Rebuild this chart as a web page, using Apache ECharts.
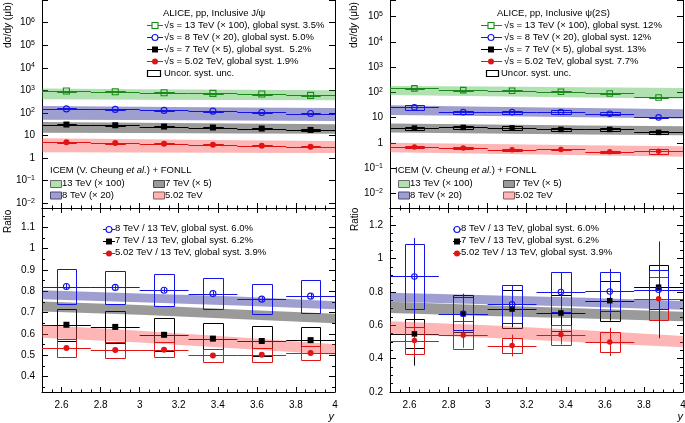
<!DOCTYPE html>
<html><head><meta charset="utf-8">
<script src="https://cdn.jsdelivr.net/npm/echarts@6/dist/echarts.min.js"></script>
<style>html,body{margin:0;padding:0;background:#fff}#c{width:685px;height:423px}</style>
</head><body><div id="c"></div>
<script>
// ---------------- DATA ----------------
const binCenters = [2.625, 2.875, 3.125, 3.375, 3.625, 3.875];
const binHalfWidth = 0.125;
const bandX = [2.5, 3.0, 3.5, 4.0];

// J/psi dsigma/dy (ub), scaled
const jpsi13 = [930, 866, 782, 735, 684, 598];
const jpsi8 = [151, 143, 129, 120, 105, 94];
const jpsi7 = [30.6, 28.5, 24.9, 22.5, 20.3, 17.6];
const jpsi5 = [4.98, 4.63, 4.36, 3.93, 3.55, 3.2];
const jpsiSys13 = [0.05, 0.05, 0.05, 0.05, 0.05, 0.05];
const jpsiSys8 = [0.05, 0.05, 0.05, 0.05, 0.05, 0.05];
const jpsiSys7 = [0.07, 0.07, 0.07, 0.07, 0.07, 0.07];
const jpsiSys5 = [0.05, 0.05, 0.05, 0.05, 0.05, 0.05];
// ICEM + FONLL bands for J/psi
const jpsiBand13Hi = [1200, 1120, 1060, 1000];
const jpsiBand13Lo = [400, 385, 372, 360];
const jpsiBand8Hi = [200, 188, 176, 165];
const jpsiBand8Lo = [50, 48, 46, 44];
const jpsiBand7Hi = [39.5, 36.5, 33.8, 31.2];
const jpsiBand7Lo = [13.2, 12.8, 12.4, 12];
const jpsiBand5Hi = [7.5, 6.8, 6.2, 5.7];
const jpsiBand5Lo = [1.8, 1.76, 1.73, 1.7];

// J/psi ratios to 13 TeV
const jpsiR8 = [0.822, 0.818, 0.805, 0.789, 0.763, 0.777];
const jpsiR7 = [0.643, 0.633, 0.596, 0.578, 0.567, 0.571];
const jpsiR5 = [0.534, 0.525, 0.526, 0.499, 0.502, 0.511];
const jpsiR8Stat = [0.012, 0.01, 0.01, 0.01, 0.01, 0.012];
const jpsiR7Stat = [0.01, 0.01, 0.01, 0.01, 0.01, 0.01];
const jpsiR5Stat = [0.01, 0.01, 0.01, 0.01, 0.01, 0.01];
const jpsiR8Sys = [0.081, 0.079, 0.075, 0.073, 0.071, 0.078];
const jpsiR7Sys = [0.076, 0.076, 0.078, 0.075, 0.07, 0.061];
const jpsiR5Sys = [0.042, 0.036, 0.034, 0.031, 0.032, 0.034];
const jpsiRBand8Hi = [0.805, 0.79, 0.775, 0.753];
const jpsiRBand8Lo = [0.762, 0.748, 0.733, 0.716];
const jpsiRBand7Hi = [0.752, 0.735, 0.715, 0.695];
const jpsiRBand7Lo = [0.705, 0.69, 0.67, 0.65];
const jpsiRBand5Hi = [0.642, 0.615, 0.585, 0.552];
const jpsiRBand5Lo = [0.582, 0.56, 0.532, 0.502];

// psi(2S) dsigma/dy (ub), scaled
const psi13 = [144, 123, 116, 106, 91, 63];
const psi8 = [25.4, 16.5, 16.5, 16.8, 14.3, 10.2];
const psi7 = [3.85, 4.08, 3.9, 3.4, 3.4, 2.6];
const psi5 = [0.69, 0.63, 0.53, 0.55, 0.44, 0.46];
const psiSys13 = [0.06, 0.05, 0.05, 0.05, 0.05, 0.06];
const psiSys8 = [0.2, 0.15, 0.15, 0.15, 0.15, 0.08];
const psiSys7 = [0.15, 0.15, 0.15, 0.15, 0.15, 0.15];
const psiSys5 = [0.08, 0.08, 0.08, 0.08, 0.08, 0.2];
const psiBand13Hi = [180, 170, 160, 150];
const psiBand13Lo = [78, 70, 63, 57];
const psiBand8Hi = [31, 27, 24, 21.5];
const psiBand8Lo = [12.6, 11.5, 10.3, 9.2];
const psiBand7Hi = [5.8, 5.3, 4.9, 4.6];
const psiBand7Lo = [2.55, 2.35, 2.15, 2.0];
const psiBand5Hi = [1.0, 0.9, 0.81, 0.74];
const psiBand5Lo = [0.42, 0.37, 0.32, 0.28];

// psi(2S) ratios to 13 TeV
const psiR8 = [0.892, 0.669, 0.725, 0.799, 0.802, 0.812];
const psiR7 = [0.548, 0.669, 0.697, 0.673, 0.747, 0.828];
const psiR5 = [0.508, 0.54, 0.478, 0.544, 0.50, 0.759];
const psiR8Stat = [0.23, 0.12, 0.11, 0.12, 0.135, 0.29];
const psiR7Stat = [0.19, 0.11, 0.11, 0.11, 0.12, 0.14];
const psiR5Stat = [0.1, 0.075, 0.065, 0.06, 0.085, 0.13];
const psiR8Sys = [0.194, 0.1, 0.114, 0.117, 0.115, 0.116];
const psiR7Sys = [0.087, 0.11, 0.114, 0.11, 0.12, 0.13];
const psiR5Sys = [0.083, 0.085, 0.047, 0.06, 0.06, 0.129];
const psiRBand8Hi = [0.795, 0.78, 0.765, 0.745];
const psiRBand8Lo = [0.74, 0.725, 0.71, 0.693];
const psiRBand7Hi = [0.74, 0.72, 0.70, 0.68];
const psiRBand7Lo = [0.673, 0.655, 0.64, 0.623];
const psiRBand5Hi = [0.623, 0.6, 0.57, 0.535];
const psiRBand5Lo = [0.548, 0.525, 0.497, 0.468];

// ---------------- STYLE ----------------
const FF = '"Liberation Sans", Arial, sans-serif';
const GREEN = '#1a8a1a', BLUE = '#1414e6', BLACK = '#000000', RED = '#e01414';
const BAND_GREEN = 'rgba(60,180,60,0.4)', BAND_BLUE = 'rgba(40,40,150,0.45)',
      BAND_GRAY = 'rgba(40,40,40,0.47)', BAND_RED = 'rgba(250,70,70,0.4)';
const BOX_HALF = 0.05;

const grids = [
  {left: 42, top: 0, width: 293, height: 208},
  {left: 42, top: 208, width: 293, height: 184},
  {left: 390, top: 0, width: 293, height: 208},
  {left: 390, top: 208, width: 293, height: 184}
].map(g => Object.assign(g, {containLabel: false, outerBoundsMode: 'none'}));

function xLabelFmt(v) {
  const k = v / 0.2;
  return (Math.abs(k - Math.round(k)) < 1e-6 && v > 2.55) ? String(+v.toFixed(1)) : '';
}
function xAxesFor(g, labels, withTop) {
  const base = {
    type: 'value', gridIndex: g, min: 2.5, max: 4, minInterval: 0.2, maxInterval: 0.2,
    splitLine: {show: false},
    axisLine: {show: true, onZero: false, lineStyle: {color: '#000', width: 1}},
    axisTick: {show: true, inside: true, length: 5, lineStyle: {color: '#000'}},
    minorTick: {show: true, splitNumber: 4, length: 2.5, lineStyle: {color: '#000'}},
    axisLabel: {show: false}
  };
  const bottom = Object.assign({}, base, {position: 'bottom'});
  if (labels) bottom.axisLabel = {show: true, interval: 0, margin: 8, color: '#000', fontSize: 10, fontFamily: FF, formatter: xLabelFmt};
  const top = Object.assign({}, base, {position: 'top', show: withTop});
  return [bottom, top];
}
function makeLogLabel(maxExp) {
  return function (v) {
    const e = Math.log10(v), r = Math.round(e);
    if (Math.abs(e - r) > 1e-3 || r > maxExp) return '';
    if (r === 0) return '1';
    if (r === 1) return '10';
    return '{b|10}{s|' + (r < 0 ? '\u2212' + (-r) : r) + '}';
  };
}
const logRich = {
  b: {fontSize: 10, fontFamily: FF, color: '#000', lineHeight: 12, verticalAlign: 'middle'},
  s: {fontSize: 7, fontFamily: FF, color: '#000', lineHeight: 8, verticalAlign: 'top', padding: [0, 0, 10, 0]}
};
function yAxesLog(g, min, max, maxExp) {
  const base = {
    type: 'log', logBase: 10, gridIndex: g, min: min, max: max,
    splitLine: {show: false},
    axisLine: {show: true, lineStyle: {color: '#000', width: 1}},
    axisTick: {show: true, inside: true, length: 6, lineStyle: {color: '#000'}},
    axisLabel: {show: false}
  };
  const left = Object.assign({}, base, {position: 'left',
    axisLabel: {show: true, interval: 0, margin: 7, color: '#000', fontSize: 10, fontFamily: FF, formatter: makeLogLabel(maxExp), rich: logRich}});
  const right = Object.assign({}, base, {position: 'right'});
  return [left, right];
}
function yAxesLin(g, min, max, step, minorSplit) {
  const fmt = v => { const k = v / step; return Math.abs(k - Math.round(k)) < 1e-6 ? String(+v.toFixed(1)) : ''; };
  const base = {
    type: 'value', gridIndex: g, min: min, max: max, minInterval: step, maxInterval: step,
    splitLine: {show: false},
    axisLine: {show: true, onZero: false, lineStyle: {color: '#000', width: 1}},
    axisTick: {show: true, inside: true, length: 6, lineStyle: {color: '#000'}},
    minorTick: {show: true, splitNumber: minorSplit, length: 3, lineStyle: {color: '#000'}},
    axisLabel: {show: false}
  };
  const left = Object.assign({}, base, {position: 'left',
    axisLabel: {show: true, interval: 0, margin: 7, color: '#000', fontSize: 10, fontFamily: FF, formatter: fmt}});
  const right = Object.assign({}, base, {position: 'right'});
  return [left, right];
}

const xAxis = [].concat(xAxesFor(0, false, false), xAxesFor(1, true, true), xAxesFor(2, false, false), xAxesFor(3, true, true));
const yAxis = [].concat(
  yAxesLog(0, Math.pow(10, -2.21), Math.pow(10, 7.0), 6),
  yAxesLin(1, 0.328, 1.19, 0.1, 2),
  yAxesLog(2, Math.pow(10, -2.583), Math.pow(10, 5.663), 5),
  yAxesLin(3, 0.2, 1.302, 0.2, 4)
);

// ---------------- SERIES BUILDERS ----------------
function bandSeries(p, bands) {
  return {
    type: 'custom', xAxisIndex: 2 * p, yAxisIndex: 2 * p, clip: true, silent: true,
    data: bands.map((b, i) => [bandX[0], b.lo[0], i]),
    renderItem: function (params, api) {
      const b = bands[params.dataIndex];
      const pts = [];
      for (let k = 0; k < bandX.length; k++) pts.push(api.coord([bandX[k], b.hi[k]]));
      for (let k = bandX.length - 1; k >= 0; k--) pts.push(api.coord([bandX[k], b.lo[k]]));
      return {type: 'polygon', shape: {points: pts}, style: {fill: b.color, stroke: null}};
    }
  };
}
function errSeries(p, ys, color, sys, rel, stat) {
  return {
    type: 'custom', xAxisIndex: 2 * p, yAxisIndex: 2 * p, clip: true, silent: true,
    data: binCenters.map((x, i) => [x, ys[i]]),
    renderItem: function (params, api) {
      const i = params.dataIndex, x = api.value(0), y = api.value(1);
      const kids = [];
      const a = api.coord([x - binHalfWidth, y]), b = api.coord([x + binHalfWidth, y]);
      const yy = Math.round(a[1]) + 0.5;
      kids.push({type: 'line', shape: {x1: a[0], y1: yy, x2: b[0], y2: yy}, style: {stroke: color, lineWidth: 1}});
      if (stat) {
        const c1 = api.coord([x, y - stat[i]]), c2 = api.coord([x, y + stat[i]]);
        const xx = Math.round(c1[0]) + 0.5;
        kids.push({type: 'line', shape: {x1: xx, y1: c1[1], x2: xx, y2: c2[1]}, style: {stroke: color, lineWidth: 1}});
      }
      if (sys) {
        const s = sys[i];
        const lo = rel ? y * (1 - s) : y - s, hi = rel ? y * (1 + s) : y + s;
        const p1 = api.coord([x - BOX_HALF, hi]), p2 = api.coord([x + BOX_HALF, lo]);
        const x1 = Math.round(p1[0]) + 0.5, y1 = Math.round(p1[1]) + 0.5;
        const x2 = Math.round(p2[0]) + 0.5, y2 = Math.round(p2[1]) + 0.5;
        kids.push({type: 'rect', shape: {x: x1, y: y1, width: x2 - x1, height: Math.max(1, y2 - y1)},
          style: {fill: null, stroke: color, lineWidth: 1}});
      }
      return {type: 'group', children: kids};
    }
  };
}
function markerSeries(p, ys, color, symbol, open, size) {
  return {
    type: 'scatter', xAxisIndex: 2 * p, yAxisIndex: 2 * p, silent: true, symbol: symbol, symbolSize: size,
    data: binCenters.map((x, i) => [x, ys[i]]),
    itemStyle: open ? {color: 'rgba(255,255,255,0)', borderColor: color, borderWidth: 1.1, opacity: 1}
                    : {color: color, borderWidth: 0, opacity: 1}
  };
}

const series = [];
// Panel 0: J/psi cross sections
series.push(bandSeries(0, [
  {hi: jpsiBand13Hi, lo: jpsiBand13Lo, color: BAND_GREEN},
  {hi: jpsiBand8Hi, lo: jpsiBand8Lo, color: BAND_BLUE},
  {hi: jpsiBand7Hi, lo: jpsiBand7Lo, color: BAND_GRAY},
  {hi: jpsiBand5Hi, lo: jpsiBand5Lo, color: BAND_RED}
]));
series.push(errSeries(0, jpsi13, GREEN, jpsiSys13, true, null), markerSeries(0, jpsi13, GREEN, 'rect', true, 6));
series.push(errSeries(0, jpsi8, BLUE, jpsiSys8, true, null), markerSeries(0, jpsi8, BLUE, 'circle', true, 6));
series.push(errSeries(0, jpsi7, BLACK, jpsiSys7, true, null), markerSeries(0, jpsi7, BLACK, 'rect', false, 6));
series.push(errSeries(0, jpsi5, RED, jpsiSys5, true, null), markerSeries(0, jpsi5, RED, 'circle', false, 6));
// Panel 1: J/psi ratios
series.push(errSeries(1, jpsiR7, BLACK, jpsiR7Sys, false, jpsiR7Stat), markerSeries(1, jpsiR7, BLACK, 'rect', false, 6));
series.push(bandSeries(1, [
  {hi: jpsiRBand8Hi, lo: jpsiRBand8Lo, color: BAND_BLUE},
  {hi: jpsiRBand7Hi, lo: jpsiRBand7Lo, color: BAND_GRAY},
  {hi: jpsiRBand5Hi, lo: jpsiRBand5Lo, color: BAND_RED}
]));
series.push(errSeries(1, jpsiR5, RED, jpsiR5Sys, false, jpsiR5Stat), markerSeries(1, jpsiR5, RED, 'circle', false, 6));
series.push(errSeries(1, jpsiR8, BLUE, jpsiR8Sys, false, jpsiR8Stat), markerSeries(1, jpsiR8, BLUE, 'circle', true, 6));
// Panel 2: psi(2S) cross sections
series.push(bandSeries(2, [
  {hi: psiBand13Hi, lo: psiBand13Lo, color: BAND_GREEN},
  {hi: psiBand8Hi, lo: psiBand8Lo, color: BAND_BLUE},
  {hi: psiBand7Hi, lo: psiBand7Lo, color: BAND_GRAY},
  {hi: psiBand5Hi, lo: psiBand5Lo, color: BAND_RED}
]));
series.push(errSeries(2, psi13, GREEN, psiSys13, true, null), markerSeries(2, psi13, GREEN, 'rect', true, 5.5));
series.push(errSeries(2, psi8, BLUE, psiSys8, true, null), markerSeries(2, psi8, BLUE, 'circle', true, 5.5));
series.push(errSeries(2, psi7, BLACK, psiSys7, true, null), markerSeries(2, psi7, BLACK, 'rect', false, 5.5));
series.push(errSeries(2, psi5, RED, psiSys5, true, null), markerSeries(2, psi5, RED, 'circle', false, 5.5));
// Panel 3: psi(2S) ratios
series.push(errSeries(3, psiR7, BLACK, psiR7Sys, false, psiR7Stat), markerSeries(3, psiR7, BLACK, 'rect', false, 5.5));
series.push(bandSeries(3, [
  {hi: psiRBand8Hi, lo: psiRBand8Lo, color: BAND_BLUE},
  {hi: psiRBand7Hi, lo: psiRBand7Lo, color: BAND_GRAY},
  {hi: psiRBand5Hi, lo: psiRBand5Lo, color: BAND_RED}
]));
series.push(errSeries(3, psiR5, RED, psiR5Sys, false, psiR5Stat), markerSeries(3, psiR5, RED, 'circle', false, 5.5));
series.push(errSeries(3, psiR8, BLUE, psiR8Sys, false, psiR8Stat), markerSeries(3, psiR8, BLUE, 'circle', true, 5.5));

// ---------------- LEGENDS / TITLES (graphic) ----------------
const LF = '9.5px ' + FF;
const G = [];
function txt(x, y, text, extra) {
  G.push(Object.assign({type: 'text', x: x, y: y, silent: true,
    style: {text: text, fill: '#000', font: LF, textAlign: 'left', textVerticalAlign: 'middle'}}, extra || {}));
}
function richTxt(x, y, text, rich, opts) {
  const o = Object.assign({type: 'text', x: x, y: y, silent: true,
    style: {text: text, fill: '#000', font: LF, textAlign: 'left', textVerticalAlign: 'middle', rich: rich}}, opts || {});
  G.push(o);
}
function hline(x1, x2, y, color) {
  G.push({type: 'line', silent: true, shape: {x1: x1, y1: y + 0.5, x2: x2, y2: y + 0.5}, style: {stroke: color, lineWidth: 1}});
}
function mark(cx, cy, color, shape, open, size) {
  const r = size / 2;
  const style = open ? {fill: '#fff', stroke: color, lineWidth: 1.1} : {fill: color, stroke: null};
  if (shape === 'rect') G.push({type: 'rect', silent: true, shape: {x: cx - r, y: cy - r, width: size, height: size}, style: style});
  else G.push({type: 'circle', silent: true, shape: {cx: cx, cy: cy, r: r}, style: style});
}
function entry(x1, x2, mx, y, color, shape, open, tx, text) {
  hline(x1, x2, Math.round(y), color);
  mark(mx, Math.round(y) + 0.5, color, shape, open, 6);
  txt(tx, y, text);
}
function swatch(x, y, fill, stroke) {
  G.push({type: 'rect', silent: true, shape: {x: x + 0.5, y: y + 0.5, width: 11, height: 7}, style: {fill: fill, stroke: stroke, lineWidth: 1}});
}
const italRich = {i: {fontStyle: 'italic', fontSize: 9.5, fontFamily: FF, fill: '#000'}};
const titleRich = {i: {fontStyle: 'italic', fontSize: 10, fontFamily: FF, fill: '#000'}};

// Left top legend
txt(163, 13, 'ALICE, pp, Inclusive J/\u03C8');
entry(147, 163, 155, 25, GREEN, 'rect', true, 164, '\u221As = 13 TeV (\u00D7 100), global syst. 3.5%');
entry(147, 163, 155, 37, BLUE, 'circle', true, 164, '\u221As = 8 TeV (\u00D7 20), global syst. 5.0%');
entry(147, 163, 155, 49, BLACK, 'rect', false, 164, '\u221As = 7 TeV (\u00D7 5), global syst.  5.2%');
entry(147, 163, 155, 61, RED, 'circle', false, 164, '\u221As = 5.02 TeV, global syst. 1.9%');
G.push({type: 'rect', silent: true, shape: {x: 147.5, y: 70.5, width: 13, height: 6}, style: {fill: '#fff', stroke: '#000', lineWidth: 1.2}});
txt(164, 73.5, 'Uncor. syst. unc.');
// Left ICEM legend
richTxt(50, 170, 'ICEM (V. Cheung {i|et al.}) + FONLL', italRich);
swatch(50, 180, 'rgb(177,225,177)', '#6a6a6a');
txt(62, 183.5, '13 TeV (\u00D7 100)');
swatch(50, 191.5, 'rgb(158,158,208)', '#4a4a7a');
txt(62, 195, '8 TeV (\u00D7 20)');
swatch(153, 180, 'rgb(154,154,154)', '#4a4a4a');
txt(165, 183.5, '7 TeV (\u00D7 5)');
swatch(153, 191.5, 'rgb(253,181,181)', '#8a5a5a');
txt(165, 195, '5.02 TeV');
// Left ratio legend
entry(103, 115, 109, 228.5, BLUE, 'circle', true, 115, '8 TeV / 13 TeV, global syst. 6.0%');
entry(103, 115, 109, 240.5, BLACK, 'rect', false, 115, '7 TeV / 13 TeV, global syst. 6.2%');
entry(103, 115, 109, 252.5, RED, 'circle', false, 115, '5.02 TeV / 13 TeV, global syst. 3.9%');

// Right top legend
txt(497, 13, 'ALICE, pp, Inclusive \u03C8(2S)');
entry(481, 502, 491, 25, GREEN, 'rect', true, 504, '\u221As = 13 TeV (\u00D7 100), global syst. 12%');
entry(481, 502, 491, 37, BLUE, 'circle', true, 504, '\u221As = 8 TeV (\u00D7 20), global syst. 12%');
entry(481, 502, 491, 49, BLACK, 'rect', false, 504, '\u221As = 7 TeV (\u00D7 5), global syst. 13%');
entry(481, 502, 491, 61, RED, 'circle', false, 504, '\u221As = 5.02 TeV, global syst. 7.7%');
G.push({type: 'rect', silent: true, shape: {x: 486.5, y: 70.5, width: 12, height: 6}, style: {fill: '#fff', stroke: '#000', lineWidth: 1.2}});
txt(501, 73.5, 'Uncor. syst. unc.');
// Right ICEM legend
richTxt(395, 170, 'ICEM (V. Cheung {i|et al.}) + FONLL', italRich);
swatch(398, 180, 'rgb(177,225,177)', '#6a6a6a');
txt(410, 183.5, '13 TeV (\u00D7 100)');
swatch(398, 191.5, 'rgb(158,158,208)', '#4a4a7a');
txt(410, 195, '8 TeV (\u00D7 20)');
swatch(503, 180, 'rgb(154,154,154)', '#4a4a4a');
txt(515, 183.5, '7 TeV (\u00D7 5)');
swatch(503, 191.5, 'rgb(253,181,181)', '#8a5a5a');
txt(515, 195, '5.02 TeV');
// Right ratio legend
entry(453, 461, 457, 228.5, BLUE, 'circle', true, 461, '8 TeV / 13 TeV, global syst. 6.0%');
entry(453, 461, 457, 240.5, BLACK, 'rect', false, 461, '7 TeV / 13 TeV, global syst. 6.2%');
entry(453, 461, 457, 252.5, RED, 'circle', false, 461, '5.02 TeV / 13 TeV, global syst. 3.9%');

// Axis titles
const TF = '10px ' + FF;
richTxt(8, 48, 'd\u03C3/d{i|y} (\u03BCb)', titleRich, {rotation: Math.PI / 2});
richTxt(354, 48, 'd\u03C3/d{i|y} (\u03BCb)', titleRich, {rotation: Math.PI / 2});
txt(8, 233, 'Ratio', {rotation: Math.PI / 2});
txt(355, 231, 'Ratio', {rotation: Math.PI / 2});
G.forEach(e => { if (e.type === 'text' && (e.style.text === 'Ratio' || e.rotation)) e.style.font = TF; });
G.push({type: 'text', x: 334, y: 417, silent: true, style: {text: 'y', fill: '#000', font: 'italic 11px ' + FF, textAlign: 'right', textVerticalAlign: 'middle'}});
G.push({type: 'text', x: 683, y: 417, silent: true, style: {text: 'y', fill: '#000', font: 'italic 11px ' + FF, textAlign: 'right', textVerticalAlign: 'middle'}});

const chart = echarts.init(document.getElementById('c'), null, {renderer: 'canvas'});
chart.setOption({
  animation: false,
  backgroundColor: '#fff',
  textStyle: {fontFamily: FF},
  grid: grids,
  xAxis: xAxis,
  yAxis: yAxis,
  series: series,
  graphic: {elements: G}
});
</script>
</body></html>
